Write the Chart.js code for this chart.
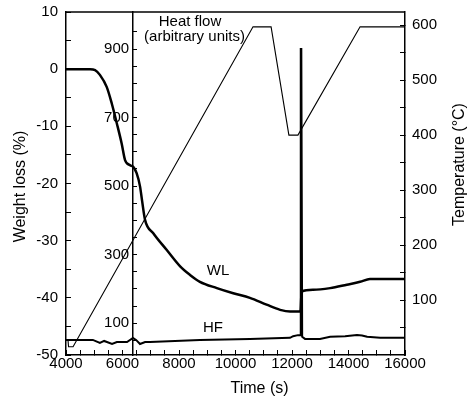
<!DOCTYPE html>
<html><head><meta charset="utf-8">
<script src="https://cdn.jsdelivr.net/npm/chart.js@4.4.0/dist/chart.umd.min.js"></script>
<style>html,body{margin:0;padding:0;background:#fff}#wrap{width:468px;height:396px;position:relative}</style>
</head><body><div id="wrap"><canvas id="c"></canvas></div>
<script>
// ---- data ----
const wlTime  = [4000,4500,4850,5030,5200,5440,5620,5800,5970,6090,6270,6380,6500,6620,6690,6800,7090,7560,8040,8390,8740,9340,9920,10510,11100,11580,11930,12220,12300,12340,12750,13350,13940,14410,14760,15120,16000];
const wlValue = [0,0,0,-0.15,-1.0,-3.1,-6.0,-9.5,-13.0,-15.9,-16.8,-17.1,-18.2,-20.5,-22.9,-26.4,-28.7,-31.6,-34.5,-36.0,-37.2,-38.3,-39.2,-40.0,-41.2,-42.1,-42.4,-42.4,-42.4,-38.9,-38.6,-38.3,-37.7,-37.2,-36.7,-36.7,-36.7];

const hfTime  = [4000,4500,4950,5200,5350,5450,5630,5800,5980,6160,6370,6480,6620,6800,6970,8740,10510,11930,12040,12210,12290,12310,12330,12360,12460,12990,13350,13880,14300,14480,14660,15120,16000];
const hfValue = [51,51,51,42,48,45,39,45,45,45,57,51,39,45,45,51,54,57,62,65,65,900,900,60,54,54,60,62,65,64,60,57,57];

const tempTime  = [4070,4090,4250,10620,11260,11890,12210,14410,16000];
const tempValue = [28,15,15,597,597,400,400,597,597];

const timeLabels = [4000,6000,8000,10000,12000,14000,16000];
const wlLabels   = [10,0,-10,-20,-30,-40,-50];
const tempLabels = [100,200,300,400,500,600];
const hfLabels   = [100,300,500,700,900];

const noteText  = ['Heat flow','(arbitrary units)','WL','HF'];
const noteTime  = [8390,8550,9380,9200];
const noteValue = [8.3,5.7,-35.3,-45.2];

// ---- helpers ----
const FONT = '"Liberation Sans", Arial, Helvetica, sans-serif';
function stepTicks(min, max, step){ const out=[]; for(let v=min; v<=max+1e-9; v+=step) out.push({value:v}); return out; }
function pts(xs, ys){ return xs.map((x,i)=>({x:x, y:ys[i]})); }
const gridOpt = {drawOnChartArea:false, tickLength:-5, color:'#000', tickColor:'#000', lineWidth:1};
const borderOpt = {display:true, color:'#000', width:1.5};
const tickFont = {family:FONT, size:15};
function noPadV(s){ s.paddingTop=0; s.paddingBottom=0; }

const decor = {
  id:'decor',
  afterDraw(chart){
    const {ctx, chartArea:a, scales} = chart;
    ctx.save();
    ctx.strokeStyle='#000'; ctx.lineWidth=1.5;
    ctx.beginPath(); ctx.moveTo(a.left, a.top); ctx.lineTo(a.right, a.top); ctx.stroke();
    ctx.fillStyle='#000';
    ctx.font='15px '+FONT; ctx.textAlign='center'; ctx.textBaseline='middle';
    noteText.forEach((t,i)=>{
      ctx.fillText(t, scales.x.getPixelForValue(noteTime[i]), scales.wl.getPixelForValue(noteValue[i]));
    });
    ctx.font='16px '+FONT; ctx.textBaseline='alphabetic';
    ctx.fillText('Time (s)', (a.left+a.right)/2 + 24, a.bottom + 38);
    ctx.save(); ctx.translate(a.left - 41, (a.top+a.bottom)/2 + 3); ctx.rotate(-Math.PI/2);
    ctx.fillText('Weight loss (%)', 0, 0); ctx.restore();
    ctx.save(); ctx.translate(a.right + 59, (a.top+a.bottom)/2 - 19); ctx.rotate(-Math.PI/2);
    ctx.fillText('Temperature (\u00B0C)', 0, 0); ctx.restore();
    ctx.restore();
  }
};

new Chart(document.getElementById('c'), {
  type:'line',
  data:{ datasets:[
    {label:'WL', data:pts(wlTime,wlValue), yAxisID:'wl', borderColor:'#000', borderWidth:2.5, pointRadius:0, cubicInterpolationMode:'monotone', fill:false},
    {label:'HF', data:pts(hfTime,hfValue), yAxisID:'hf', borderColor:'#000', borderWidth:2, pointRadius:0, tension:0, fill:false},
    {label:'Temperature', data:pts(tempTime,tempValue), yAxisID:'temp', borderColor:'#000', borderWidth:1.1, pointRadius:0, tension:0, fill:false}
  ]},
  options:{
    responsive:true, maintainAspectRatio:false, animation:false, devicePixelRatio:1,
    layout:{padding:{top:12, left:0, right:0, bottom:0}},
    plugins:{legend:{display:false}, tooltip:{enabled:false}},
    scales:{
      x:{type:'linear', position:'bottom', min:4000, max:16000,
         afterBuildTicks:s=>{s.ticks=stepTicks(4000,16000,500);},
         afterFit:s=>{s.height=41; s.paddingLeft=0; s.paddingRight=0;},
         grid:gridOpt, border:borderOpt,
         ticks:{autoSkip:false, maxRotation:0, padding:5, color:'#000', font:tickFont,
                callback:v=>timeLabels.includes(v)?String(v):''}},
      wl:{type:'linear', position:'left', min:-50, max:10,
         afterBuildTicks:s=>{s.ticks=stepTicks(-50,10,5);},
         afterFit:s=>{s.width=66; noPadV(s);},
         grid:gridOpt, border:borderOpt,
         ticks:{autoSkip:false, padding:13, color:'#000', font:tickFont,
                callback:v=>wlLabels.includes(v)?String(v):''}},
      temp:{type:'linear', position:'right', min:0, max:624,
         afterBuildTicks:s=>{s.ticks=stepTicks(50,600,50);},
         afterFit:s=>{s.width=63; noPadV(s);},
         grid:gridOpt, border:borderOpt,
         ticks:{autoSkip:false, padding:12, color:'#000', font:tickFont,
                callback:v=>tempLabels.includes(v)?String(v):''}},
      hf:{type:'linear', position:{x:6380}, min:7, max:1008,
         afterBuildTicks:s=>{s.ticks=stepTicks(50,950,50);},
         afterFit:noPadV,
         grid:gridOpt, border:borderOpt,
         ticks:{autoSkip:false, padding:11, color:'#000', font:tickFont,
                callback:v=>hfLabels.includes(v)?String(v)+' ':''}}
    }
  },
  plugins:[decor]
});
</script></body></html>
